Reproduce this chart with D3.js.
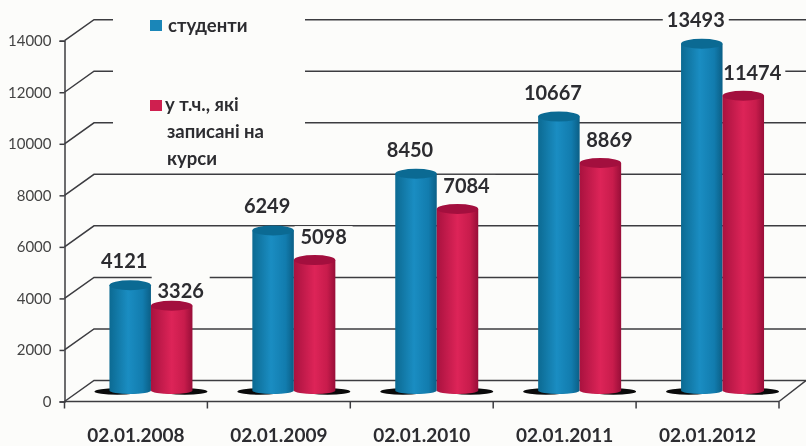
<!DOCTYPE html>
<html><head><meta charset="utf-8">
<script src="https://cdn.jsdelivr.net/npm/d3@7"></script>
<style>html,body{margin:0;padding:0;background:#fcfcfa}svg{display:block;filter:blur(.55px)}</style>
</head><body><svg id="c" width="806" height="446"></svg>
<script>
const categories=["02.01.2008","02.01.2009","02.01.2010","02.01.2011","02.01.2012"];
const students=[4121,6249,8450,10667,13493];
const enrolled=[3326,5098,7084,8869,11474];
const yTicks=[0,2000,4000,6000,8000,10000,12000,14000];
const legendStudents=["студенти"];
const legendEnrolled=["у т.ч., які","записані на","курси"];

const W=806,H=446;
const FONT="Lato, 'Open Sans', sans-serif";
const BG="#fcfcfa";
const svg=d3.select("#c");
const x=d3.scaleBand().domain(categories).range([64.5,779]);
const y=d3.scaleLinear().domain([0,14000]).range([401.5,40.7]);
const depthX=29.5,depthY=21,barW=41.5,barBase=10;
const ink="#3c3c40";

const defs=svg.append("defs");
function grad(id,stops){
  const g=defs.append("linearGradient").attr("id",id).attr("x1",0).attr("x2",1).attr("y1",0).attr("y2",0);
  stops.forEach(s=>g.append("stop").attr("offset",s[0]).attr("stop-color",s[1]));
}
grad("gBlue",[[0,"#0c6a92"],[.45,"#1a8dc2"],[.8,"#127cae"],[1,"#0b5f86"]]);
grad("gRed",[[0,"#a9123f"],[.5,"#dd2458"],[.8,"#c81c4c"],[1,"#980e38"]]);

// walls and floor
const grid=svg.append("g").attr("fill","none").attr("stroke",ink).attr("stroke-width",1.5);
yTicks.forEach(t=>{
  const p=d3.path();
  p.moveTo(x.range()[0],y(t));
  p.lineTo(x.range()[0]+depthX,y(t)-depthY);
  p.lineTo(W,y(t)-depthY);
  grid.append("path").attr("d",p);
});
grid.append("path").attr("d",d3.line()([[x.range()[1],y(0)],[W,y(0)-depthY]]));

// legend backdrop covers the upper gridlines
svg.append("rect").attr("x",113).attr("y",8).attr("width",192).attr("height",160).attr("fill",BG);

// label backdrops interrupt the gridlines
const series=[
 {values:students,key:"s",fill:"url(#gBlue)",top:"#0b6a93",shift:-barW/2,dx:-6,dy:-24,shadow:-1},
 {values:enrolled,key:"e",fill:"url(#gRed)",top:"#a30f3e",shift:barW/2,dx:9,dy:-23,shadow:1}
];
const isLow=(s,i)=>s.key==="e"&&i===0;
const labelY=(s,v,i)=>y(v)-barBase+s.dy+(isLow(s,i)?8:0);
const cx=(i,s)=>x(categories[i])+x.bandwidth()/2+15+s.shift;
const boxW=v=>String(v).length>4?66:58;
series.forEach(s=>{
  svg.append("g").selectAll("rect").data(s.values).join("rect")
    .attr("x",(d,i)=>cx(i,s)+s.dx-boxW(d)/2)
    .attr("width",d=>boxW(d))
    .attr("y",(d,i)=>labelY(s,d,i)-(isLow(s,i)?15.5:11))
    .attr("height",(d,i)=>(isLow(s,i)?30:22))
    .attr("fill",BG);
});

// axes
const axisL=svg.append("g").attr("transform",`translate(${x.range()[0]},0)`)
  .call(d3.axisLeft(y).tickValues(yTicks).tickFormat(d3.format("d")).tickSize(5).tickPadding(8));
axisL.selectAll("path,line").attr("stroke",ink).attr("stroke-width",1.5);
axisL.selectAll("text").attr("font-family",FONT).attr("font-size",15).attr("fill","#444");

const bounds=[...categories.map(c=>x(c)),x.range()[1]];
svg.append("path").attr("fill","none").attr("stroke",ink).attr("stroke-width",1.5)
  .attr("d",d3.line()([[x.range()[0],y(0)],[x.range()[1],y(0)]]));
svg.append("g").selectAll("line").data(bounds).join("line")
  .attr("x1",d=>d).attr("x2",d=>d).attr("y1",y(0)).attr("y2",y(0)+7)
  .attr("stroke",ink).attr("stroke-width",1.5);
svg.append("g").selectAll("text").data(categories).join("text")
  .attr("x",d=>x(d)+x.bandwidth()/2).attr("y",441.5)
  .attr("text-anchor","middle").attr("font-family",FONT).attr("font-weight",700)
  .attr("font-size",19).attr("fill","#2c2c30").text(d=>d);

// shadows under the cylinders
series.forEach(s=>{
  svg.append("g").selectAll("ellipse").data(s.values).join("ellipse")
    .attr("cx",(d,i)=>cx(i,s)+s.shadow*13)
    .attr("cy",y(0)-barBase)
    .attr("rx",barW/2+2).attr("ry",3.2).attr("fill","#0a0a0a");
});

// cylinders
series.forEach(s=>{
  const g=svg.append("g");
  g.selectAll("path").data(s.values).join("path")
    .attr("fill",s.fill)
    .attr("d",(d,i)=>{
      const l=cx(i,s)-barW/2,r=l+barW,t=y(d)-barBase,b=y(0)-barBase;
      return `M${l},${t}L${l},${b-1}A${barW/2},3.5 0 0 0 ${r},${b-1}L${r},${t}Z`;
    });
  g.selectAll("ellipse").data(s.values).join("ellipse")
    .attr("cx",(d,i)=>cx(i,s)).attr("cy",d=>y(d)-barBase)
    .attr("rx",barW/2).attr("ry",5).attr("fill",s.top);
  svg.append("g").selectAll("text").data(s.values).join("text")
    .attr("x",(d,i)=>cx(i,s)+s.dx).attr("y",(d,i)=>labelY(s,d,i))
    .attr("dy","0.35em").attr("text-anchor","middle")
    .attr("font-family",FONT).attr("font-weight",700).attr("font-size",20)
    .attr("fill","#2c2c30").text(d=>d);
});

// legend
const leg=svg.append("g").attr("font-family",FONT).attr("font-weight",700).attr("font-size",18.5).attr("fill","#2c2c30");
leg.append("rect").attr("x",150).attr("y",20).attr("width",12).attr("height",11).attr("fill","#1a86b8");
leg.selectAll("text.a").data(legendStudents).join("text").attr("class","a")
  .attr("x",168).attr("y",26).attr("dy","0.35em").text(d=>d);
leg.append("rect").attr("x",150).attr("y",100).attr("width",12).attr("height",11).attr("fill","#cf1f4f");
leg.selectAll("text.b").data(legendEnrolled).join("text").attr("class","b")
  .attr("x",(d,i)=>i===0?165:167).attr("y",(d,i)=>105+i*27).attr("dy","0.35em").text(d=>d);
</script></body></html>
